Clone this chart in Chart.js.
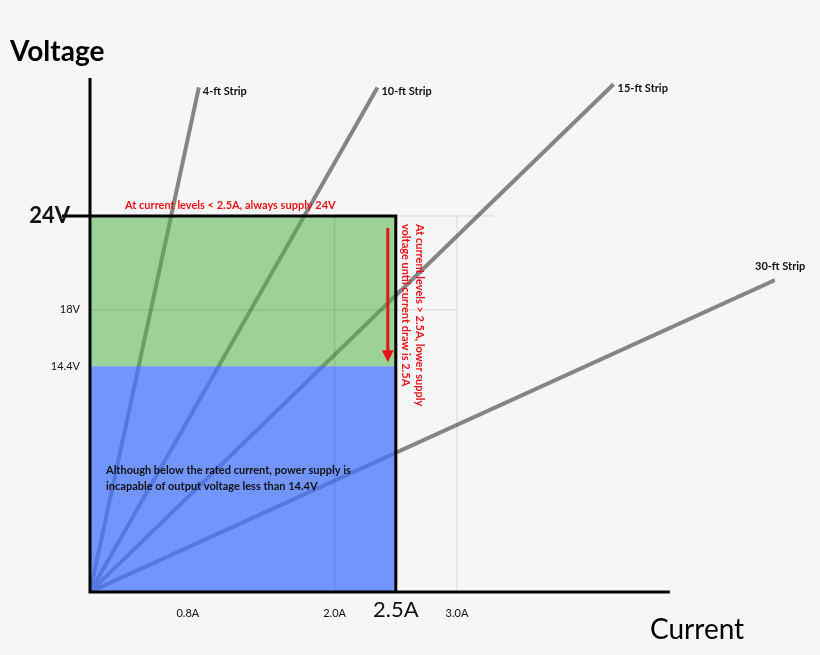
<!DOCTYPE html>
<html>
<head>
<meta charset="utf-8">
<script src="https://cdn.jsdelivr.net/npm/chart.js@4.4.0/dist/chart.umd.min.js"></script>
<style>
  body { margin: 0; background: #f6f6f6; }
  #wrap { width: 820px; height: 655px; }
</style>
</head>
<body>
<div id="wrap"><canvas id="mycanvas"></canvas></div>
<script>
// strips: end point of each line (current A, voltage V), all start at origin
var stripNames = ["4-ft Strip", "10-ft Strip", "15-ft Strip", "30-ft Strip"];
var stripEndX = [0.89, 2.35, 4.28, 5.6];
var stripEndY = [32.2, 32.2, 32.4, 19.9];

var xTicks = [0.8, 2.0, 2.5, 3.0];
var xTickLabels = ["0.8A", "2.0A", "2.5A", "3.0A"];
var yTicks = [14.4, 18, 24];
var yTickLabels = ["14.4V", "18V", "24V"];

var ratedCurrent = 2.5;
var supplyMax = 24;
var supplyMin = 14.4;

var datasets = [];
datasets.push({
  label: "low", data: [{x: 0, y: supplyMin}, {x: ratedCurrent, y: supplyMin}],
  borderWidth: 0, pointRadius: 0, fill: "origin",
  backgroundColor: "rgba(70,115,255,0.75)", order: 1
});
datasets.push({
  label: "ok", data: [{x: 0, y: supplyMax}, {x: ratedCurrent, y: supplyMax}],
  borderWidth: 0, pointRadius: 0, fill: 0,
  backgroundColor: "rgba(80,180,70,0.55)", order: 1
});
for (var i = 0; i < stripNames.length; i++) {
  datasets.push({
    label: stripNames[i],
    data: [{x: 0, y: 0}, {x: stripEndX[i], y: stripEndY[i]}],
    borderColor: "#858585", borderWidth: 4, pointRadius: 0, fill: false, order: 2
  });
}

var drawStuff = {
  id: "drawStuff",
  afterDatasetsDraw: function(chart) {
    var c = chart.ctx, xs = chart.scales.x, ys = chart.scales.y;
    var px = function(v){ return xs.getPixelForValue(v); };
    var py = function(v){ return ys.getPixelForValue(v); };
    c.save();
    // faint grid
    c.strokeStyle = "rgba(0,0,0,0.12)"; c.lineWidth = 1;
    [2.0, 3.0].forEach(function(v){
      c.beginPath(); c.moveTo(px(v), py(0)); c.lineTo(px(v), py(supplyMax)); c.stroke();
    });
    [18].forEach(function(v){
      c.beginPath(); c.moveTo(px(0), py(v)); c.lineTo(px(3.0), py(v)); c.stroke();
    });
    c.beginPath(); c.moveTo(px(0), py(supplyMax)); c.lineTo(px(3.3), py(supplyMax)); c.stroke();
    // axes
    c.strokeStyle = "#000"; c.lineWidth = 3;
    c.beginPath(); c.moveTo(px(0), py(32.8)); c.lineTo(px(0), py(0)); c.lineTo(px(4.74), py(0)); c.stroke();
    // supply limits
    c.beginPath(); c.moveTo(px(0) - 28, py(supplyMax)); c.lineTo(px(ratedCurrent), py(supplyMax));
    c.lineTo(px(ratedCurrent), py(0)); c.stroke();
    // red arrow
    var ax = px(ratedCurrent) - 8;
    c.strokeStyle = "#e8141a"; c.fillStyle = "#e8141a"; c.lineWidth = 3;
    c.beginPath(); c.moveTo(ax, py(supplyMax) + 12); c.lineTo(ax, py(supplyMin) - 14); c.stroke();
    c.beginPath(); c.moveTo(ax - 6, py(supplyMin) - 16); c.lineTo(ax + 6, py(supplyMin) - 16);
    c.lineTo(ax, py(supplyMin) - 4); c.closePath(); c.fill();
    // tick labels
    c.fillStyle = "#111"; c.textAlign = "center"; c.textBaseline = "middle";
    for (var i = 0; i < xTicks.length; i++) {
      c.font = xTicks[i] === ratedCurrent ? "22px Lato" : "11px Lato";
      c.fillText(xTickLabels[i], px(xTicks[i]), py(0) + (xTicks[i] === ratedCurrent ? 18 : 21));
    }
    c.textAlign = "right";
    for (var j = 0; j < yTicks.length; j++) {
      c.font = yTicks[j] === supplyMax ? "bold 22px Lato" : "11px Lato";
      c.fillText(yTickLabels[j], yTicks[j] === supplyMax ? px(0) - 20 : px(0) - 10, py(yTicks[j]));
    }
    // strip labels
    c.textAlign = "left"; c.font = "bold 11px Lato";
    for (var k = 0; k < stripNames.length; k++) {
      c.fillText(stripNames[k], px(stripEndX[k]) + 4 - (k === 3 ? 24 : 0), py(stripEndY[k]) + (k === 3 ? -14 : 4));
    }
    // titles
    c.font = "bold 28px Lato"; c.fillStyle = "#000";
    c.fillText("Voltage", 10, 52);
    c.font = "28px Lato";
    c.fillText("Current", 650, 630);
    // notes
    c.fillStyle = "#e8141a"; c.font = "bold 11px Lato"; c.textAlign = "left";
    c.fillText("At current levels < 2.5A, always supply 24V", 125, py(supplyMax) - 10);
    c.fillStyle = "#111";
    c.fillText("Although below the rated current, power supply is", 106, 470);
    c.fillText("incapable of output voltage less than 14.4V", 106, 486);
    c.save();
    c.translate(px(ratedCurrent) + 16, py(supplyMax) + 8);
    c.rotate(Math.PI / 2);
    c.fillStyle = "#e8141a"; c.font = "bold 11px Lato";
    c.fillText("At current levels > 2.5A, lower supply", 0, -8);
    c.fillText("voltage until current draw is 2.5A", 0, 6);
    c.restore();
    c.restore();
  }
};

var ctx = document.getElementById("mycanvas");
var graph = new Chart(ctx, {
  type: "line",
  data: { datasets: datasets },
  plugins: [drawStuff],
  options: {
    responsive: true, maintainAspectRatio: false, animation: false,
    layout: { padding: { left: 90, right: 45, top: 78, bottom: 63 } },
    plugins: { legend: { display: false }, tooltip: { enabled: false } },
    scales: {
      x: { type: "linear", min: 0, max: 5.6, display: false },
      y: { type: "linear", min: 0, max: 32.8, display: false }
    }
  }
});
</script>
</body>
</html>
